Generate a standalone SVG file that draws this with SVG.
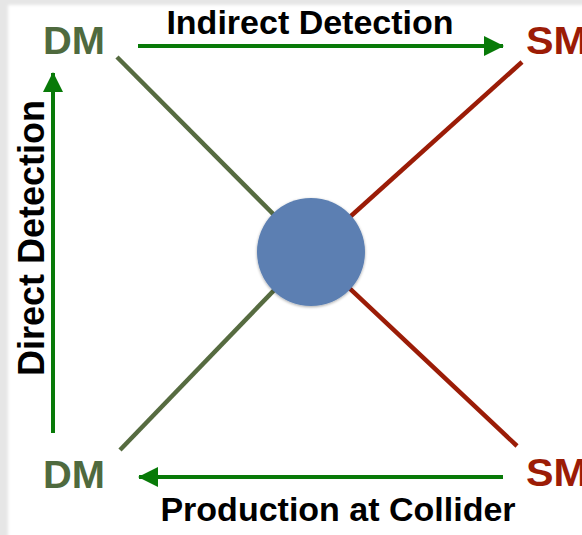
<svg xmlns="http://www.w3.org/2000/svg" width="582" height="535" viewBox="0 0 582 535">
  <defs>
    <style>
      .lbl { font-family: "Liberation Sans", Arial, Helvetica, sans-serif; font-weight: bold; }
      .cap { font-size: 34px; fill: #000; }
      .dm { font-size: 38px; fill: #4f6a3e; }
      .sm { font-size: 38px; fill: #9c1c06; }
      .arrow { stroke: #087a08; stroke-width: 4; fill: none; }
      .legdm { stroke: #566b40; stroke-width: 4.5; }
      .legsm { stroke: #9b1c07; stroke-width: 4.5; }
    </style>
    <marker id="head" viewBox="0 0 20 20" refX="19" refY="10" markerWidth="20" markerHeight="20" markerUnits="userSpaceOnUse" orient="auto">
      <path d="M0,0 L20,10 L0,20 Z" fill="#087a08"/>
    </marker>
    <filter id="soft" x="-5%" y="-5%" width="110%" height="110%">
      <feGaussianBlur stdDeviation="1.5"/>
    </filter>
    <filter id="shadow" x="-20%" y="-20%" width="140%" height="140%">
      <feGaussianBlur in="SourceAlpha" stdDeviation="1.5"/>
      <feOffset dx="0" dy="1" result="b"/>
      <feComponentTransfer><feFuncA type="linear" slope="0.35"/></feComponentTransfer>
      <feMerge><feMergeNode/><feMergeNode in="SourceGraphic"/></feMerge>
    </filter>
  </defs>

  <!-- page with a faint grey margin along the top and left -->
  <rect x="0" y="0" width="582" height="535" fill="#e6e6e6"/>
  <rect x="8" y="5" width="590" height="545" fill="#ffffff" filter="url(#soft)"/>

  <!-- connectors -->
  <g id="connectors">
    <line class="legdm" x1="117" y1="57" x2="311" y2="252"/>
    <line class="legdm" x1="120" y1="450" x2="311" y2="252"/>
    <line class="legsm" x1="522" y1="62" x2="311" y2="252"/>
    <line class="legsm" x1="517" y1="446" x2="311" y2="252"/>
    <line class="arrow" x1="138" y1="46" x2="503" y2="46" marker-end="url(#head)"/>
    <line class="arrow" x1="503" y1="477" x2="139" y2="477" marker-end="url(#head)"/>
    <line class="arrow" x1="53" y1="433" x2="53" y2="73" marker-end="url(#head)"/>
  </g>

  <!-- interaction vertex -->
  <g id="vertex">
    <circle cx="311" cy="252" r="54" fill="#5b7fb2" filter="url(#shadow)"/>
  </g>

  <g id="dm-top"><text class="lbl dm" x="43" y="54" textLength="62" lengthAdjust="spacingAndGlyphs">DM</text></g>
  <g id="sm-top"><text class="lbl sm" x="526" y="54" textLength="62" lengthAdjust="spacingAndGlyphs">SM</text></g>
  <g id="dm-bottom"><text class="lbl dm" x="43" y="488" textLength="62" lengthAdjust="spacingAndGlyphs">DM</text></g>
  <g id="sm-bottom"><text class="lbl sm" x="526" y="486" textLength="62" lengthAdjust="spacingAndGlyphs">SM</text></g>

  <g id="label-indirect"><text class="lbl cap" x="310" y="34" text-anchor="middle">Indirect Detection</text></g>
  <g id="label-production"><text class="lbl cap" x="338" y="521" text-anchor="middle">Production at Collider</text></g>
  <g id="label-direct"><text class="lbl cap" x="0" y="0" text-anchor="middle" style="font-size:36px" transform="translate(44,238) rotate(-90)">Direct Detection</text></g>
</svg>
